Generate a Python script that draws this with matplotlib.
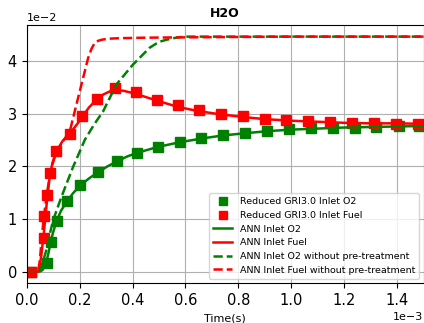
import matplotlib
matplotlib.use('Agg')
import matplotlib.pyplot as plt

# Reduced GRI3.0 reference points (time in s, H2O mass fraction)
gri_o2_t = [0.018e-3, 0.075e-3, 0.090e-3, 0.113e-3, 0.152e-3, 0.203e-3, 0.270e-3, 0.343e-3,
            0.418e-3, 0.495e-3, 0.578e-3, 0.660e-3, 0.742e-3, 0.824e-3, 0.907e-3, 0.991e-3,
            1.075e-3, 1.157e-3, 1.239e-3, 1.322e-3, 1.406e-3, 1.484e-3]
gri_o2_y = [0.0, 0.0016, 0.0057, 0.0097, 0.0134, 0.0165, 0.0189, 0.0211,
            0.0226, 0.0237, 0.0247, 0.0254, 0.0260, 0.0264, 0.0268, 0.0271,
            0.0273, 0.0273, 0.0274, 0.0275, 0.0276, 0.0277]

gri_fuel_t = [0.018e-3, 0.064e-3, 0.067e-3, 0.078e-3, 0.088e-3, 0.112e-3, 0.163e-3, 0.208e-3,
              0.264e-3, 0.333e-3, 0.413e-3, 0.494e-3, 0.573e-3, 0.651e-3, 0.734e-3, 0.818e-3,
              0.899e-3, 0.981e-3, 1.065e-3, 1.147e-3, 1.231e-3, 1.314e-3, 1.397e-3, 1.478e-3]
gri_fuel_y = [0.0, 0.0063, 0.0105, 0.0146, 0.0188, 0.0229, 0.0262, 0.0295,
              0.0328, 0.0349, 0.0342, 0.0327, 0.0316, 0.0307, 0.0300, 0.0295,
              0.0291, 0.0288, 0.0286, 0.0284, 0.0283, 0.0283, 0.0281, 0.0281]

# ANN predictions
ann_o2_t = [0.0, 0.050e-3, 0.060e-3, 0.068e-3, 0.075e-3, 0.083e-3, 0.090e-3, 0.100e-3, 0.113e-3,
            0.130e-3, 0.152e-3, 0.175e-3, 0.203e-3, 0.235e-3, 0.270e-3, 0.305e-3, 0.343e-3,
            0.380e-3, 0.418e-3, 0.495e-3, 0.578e-3, 0.660e-3, 0.742e-3, 0.824e-3, 0.907e-3,
            1.0e-3, 1.1e-3, 1.2e-3, 1.3e-3, 1.4e-3, 1.5e-3]
ann_o2_y = [0.0, 0.0, 0.0003, 0.0010, 0.0019, 0.0037, 0.0055, 0.0075, 0.0096,
            0.0116, 0.0133, 0.0149, 0.0164, 0.0177, 0.0189, 0.0200, 0.0210,
            0.0219, 0.0226, 0.0237, 0.0246, 0.0253, 0.0259, 0.0263, 0.0267,
            0.0270, 0.0272, 0.0274, 0.0275, 0.0276, 0.0277]

ann_fuel_t = [0.0, 0.044e-3, 0.050e-3, 0.055e-3, 0.060e-3, 0.065e-3, 0.070e-3, 0.078e-3, 0.088e-3,
              0.098e-3, 0.112e-3, 0.135e-3, 0.163e-3, 0.190e-3, 0.208e-3, 0.235e-3, 0.264e-3,
              0.290e-3, 0.315e-3, 0.340e-3, 0.365e-3, 0.390e-3, 0.413e-3, 0.450e-3, 0.494e-3,
              0.540e-3, 0.573e-3, 0.651e-3, 0.734e-3, 0.818e-3, 0.899e-3, 1.0e-3, 1.1e-3,
              1.2e-3, 1.3e-3, 1.4e-3, 1.5e-3]
ann_fuel_y = [0.0, 0.0, 0.0012, 0.0030, 0.0052, 0.0075, 0.0100, 0.0142, 0.0185,
              0.0208, 0.0228, 0.0248, 0.0263, 0.0280, 0.0293, 0.0312, 0.0327,
              0.0337, 0.0343, 0.0345, 0.0344, 0.0341, 0.0338, 0.0332, 0.0325,
              0.0318, 0.0313, 0.0305, 0.0299, 0.0294, 0.0290, 0.0287, 0.0285,
              0.0283, 0.0282, 0.0282, 0.0281]

# ANN without pre-treatment
raw_o2_t = [0.0, 0.048e-3, 0.055e-3, 0.065e-3, 0.075e-3, 0.088e-3, 0.100e-3, 0.132e-3, 0.176e-3,
            0.220e-3, 0.255e-3, 0.289e-3, 0.339e-3, 0.402e-3, 0.465e-3, 0.500e-3, 0.528e-3,
            0.555e-3, 0.578e-3, 0.610e-3, 0.7e-3, 1.0e-3, 1.5e-3]
raw_o2_y = [0.0, 0.0, 0.0008, 0.0025, 0.0042, 0.0073, 0.0098, 0.0143, 0.0200,
            0.0251, 0.0280, 0.0305, 0.0356, 0.0394, 0.0426, 0.0437, 0.0441,
            0.0444, 0.0446, 0.0447, 0.0447, 0.0447, 0.0447]

raw_fuel_t = [0.0, 0.042e-3, 0.048e-3, 0.052e-3, 0.056e-3, 0.062e-3, 0.070e-3, 0.080e-3, 0.092e-3,
              0.112e-3, 0.140e-3, 0.163e-3, 0.188e-3, 0.213e-3, 0.232e-3, 0.245e-3, 0.257e-3,
              0.270e-3, 0.283e-3, 0.308e-3, 0.350e-3, 0.450e-3, 0.7e-3, 1.0e-3, 1.5e-3]
raw_fuel_y = [0.0, 0.0, 0.0015, 0.0035, 0.0060, 0.0090, 0.0125, 0.0160, 0.0195,
              0.0228, 0.0250, 0.0267, 0.0318, 0.0368, 0.0406, 0.0424, 0.0435,
              0.0439, 0.0441, 0.0443, 0.0444, 0.0445, 0.0446, 0.0447, 0.0447]

fig = plt.figure(figsize=(4.24, 3.23), dpi=100)
ax = fig.add_axes([0.063, 0.123, 0.936, 0.800])

ax.plot(gri_o2_t, gri_o2_y, 's', color='g', markersize=6.5, label='Reduced GRI3.0 Inlet O2')
ax.plot(gri_fuel_t, gri_fuel_y, 's', color='r', markersize=6.5, label='Reduced GRI3.0 Inlet Fuel')
ax.plot(ann_o2_t, ann_o2_y, '-', color='g', linewidth=1.8, label='ANN Inlet O2')
ax.plot(ann_fuel_t, ann_fuel_y, '-', color='r', linewidth=1.8, label='ANN Inlet Fuel')
ax.plot(raw_o2_t, raw_o2_y, '--', color='g', linewidth=1.8, label='ANN Inlet O2 without pre-treatment')
ax.plot(raw_fuel_t, raw_fuel_y, '--', color='r', linewidth=1.8, label='ANN Inlet Fuel without pre-treatment')

ax.set_xlim(0, 1.5e-3)
ax.ticklabel_format(style='sci', axis='both', scilimits=(0, 0))
ax.tick_params(labelsize=10.5)
ax.xaxis.get_offset_text().set_fontsize(8)
ax.yaxis.get_offset_text().set_fontsize(8)
ax.grid(True)
ax.set_title('H2O', fontsize=9, fontweight='bold')
ax.set_xlabel('Time(s)', fontsize=8)
ax.legend(loc='lower right', fontsize=6.8, markerscale=0.9)

fig.savefig('out.png', dpi=100)
